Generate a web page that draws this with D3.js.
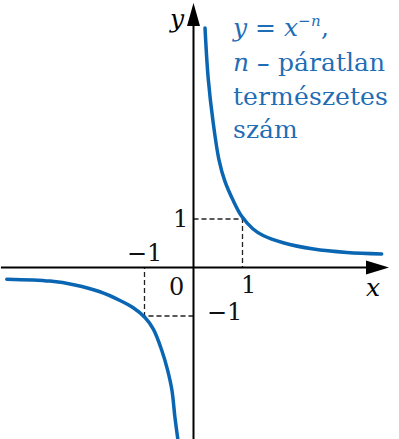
<!DOCTYPE html>
<html>
<head>
<meta charset="utf-8">
<script src="https://cdn.jsdelivr.net/npm/d3@7/dist/d3.min.js"></script>
<style>
  @font-face { font-family: "ChartSerif"; font-style: normal; src: local("DejaVu Serif"), local("DejaVuSerif"); }
  @font-face { font-family: "ChartSerif"; font-style: italic; src: local("DejaVu Serif Italic"), local("DejaVuSerif-Italic"); }
  html, body { margin: 0; padding: 0; background: #fff; }
  svg { display: block; }
  svg text { font-family: "ChartSerif", "DejaVu Serif"; }
</style>
</head>
<body>
<svg id="chart" width="399" height="439"></svg>
<script>
// Right branch (x > 0) of y = x^-n
const rightX = [0.235, 0.30, 0.40, 0.52, 0.64, 0.81, 0.98, 1.21, 1.42, 1.83, 2.45, 3.13, 3.84];
const rightY = [4.94, 3.90, 3.00, 2.22, 1.78, 1.38, 1.06, 0.80, 0.66, 0.51, 0.38, 0.31, 0.28];
// Left branch (x < 0)
const leftX = [-3.81, -2.93, -2.42, -1.91, -1.50, -1.23, -0.99, -0.82, -0.65, -0.53, -0.44, -0.38, -0.32];
const leftY = [-0.24, -0.28, -0.36, -0.50, -0.68, -0.83, -1.03, -1.27, -1.70, -2.11, -2.53, -3.08, -3.54];
// Tick labels on the axes
const tickLabels = [
  { text: "1",  x: 0,  y: 1,  pos: "left" },
  { text: "\u22121", x: -1, y: 0, pos: "above" },
  { text: "0",  x: 0,  y: 0,  pos: "origin" },
  { text: "1",  x: 1,  y: 0,  pos: "below" },
  { text: "\u22121", x: 0, y: -1, pos: "right" }
];
const legendLines = ["páratlan", "természetes", "szám"];

const blue = "#0a66b2";
const textBlue = "#1f6db5";

const svg = d3.select("#chart");
const x = d3.scaleLinear().domain([-4, 4]).range([193.5 - 196, 193.5 + 196]);
const y = d3.scaleLinear().domain([0, 1]).range([267.5, 219]);

// Dashed unit guides
const dash = svg.append("g").attr("stroke", "#222").attr("stroke-width", 1.3)
  .attr("stroke-dasharray", "5,3").attr("fill", "none");
dash.append("path").attr("d", `M${x(0)},${y(1)}H${x(1)}V${y(0)}`);
dash.append("path").attr("d", `M${x(0)},${y(-1)}H${x(-1)}V${y(0)}`);

// Axes with arrowheads
const axes = svg.append("g");
const xEnd = 389, yEnd = 3;
axes.append("line").attr("x1", x(-3.93)).attr("x2", xEnd - 10)
  .attr("y1", y(0)).attr("y2", y(0)).attr("stroke", "#000").attr("stroke-width", 2);
axes.append("path").attr("d", `M${xEnd},${y(0)}L${xEnd - 23},${y(0) - 7}L${xEnd - 23},${y(0) + 7}Z`).attr("fill", "#000");
axes.append("line").attr("x1", x(0)).attr("x2", x(0))
  .attr("y1", 439).attr("y2", yEnd + 10).attr("stroke", "#000").attr("stroke-width", 2);
axes.append("path").attr("d", `M${x(0)},${yEnd}L${x(0) - 6.5},${yEnd + 23}L${x(0) + 6.5},${yEnd + 23}Z`).attr("fill", "#000");

// Curves
const line = d3.line().x(d => x(d[0])).y(d => y(d[1])).curve(d3.curveCatmullRom.alpha(0.5));
const branches = [d3.zip(rightX, rightY), d3.zip(leftX, leftY)];
svg.append("g").selectAll("path").data(branches).join("path")
  .attr("d", line).attr("fill", "none").attr("stroke", blue)
  .attr("stroke-width", 3.5).attr("stroke-linecap", "round");

// Tick labels
const offsets = {
  left:   { dx: -6,  dy: 8,   anchor: "end" },
  above:  { dx: 0,   dy: -7,  anchor: "middle" },
  origin: { dx: -10, dy: 27,  anchor: "end" },
  below:  { dx: 6,   dy: 25,  anchor: "middle" },
  right:  { dx: 13,  dy: 4,   anchor: "start" }
};
svg.append("g").selectAll("text").data(tickLabels).join("text")
  .attr("x", d => x(d.x) + offsets[d.pos].dx)
  .attr("y", d => y(d.y) + offsets[d.pos].dy)
  .attr("text-anchor", d => offsets[d.pos].anchor)
  .attr("font-size", 24).attr("fill", "#111")
  .text(d => d.text);

// Axis names
svg.append("text").attr("x", 170).attr("y", 27).attr("font-size", 25)
  .attr("font-style", "italic").text("y");
svg.append("text").attr("x", 366).attr("y", 296).attr("font-size", 25)
  .attr("font-style", "italic").text("x");

// Description text
const desc = svg.append("g").attr("fill", textBlue).attr("font-size", 25);
const t1 = desc.append("text").attr("x", 233).attr("y", 36);
t1.append("tspan").attr("font-style", "italic").text("y");
t1.append("tspan").text(" = ");
t1.append("tspan").attr("font-style", "italic").text("x");
t1.append("tspan").attr("font-size", 15).attr("dy", -10).attr("font-style", "italic").text("\u2212n");
t1.append("tspan").attr("dy", 10).text(",");
const t2 = desc.append("text").attr("x", 233).attr("y", 71);
t2.append("tspan").attr("font-style", "italic").text("n");
t2.append("tspan").text(" \u2013 " + legendLines[0]);
desc.append("text").attr("x", 233).attr("y", 105).text(legendLines[1]);
desc.append("text").attr("x", 233).attr("y", 138).text(legendLines[2]);
</script>
</body>
</html>
